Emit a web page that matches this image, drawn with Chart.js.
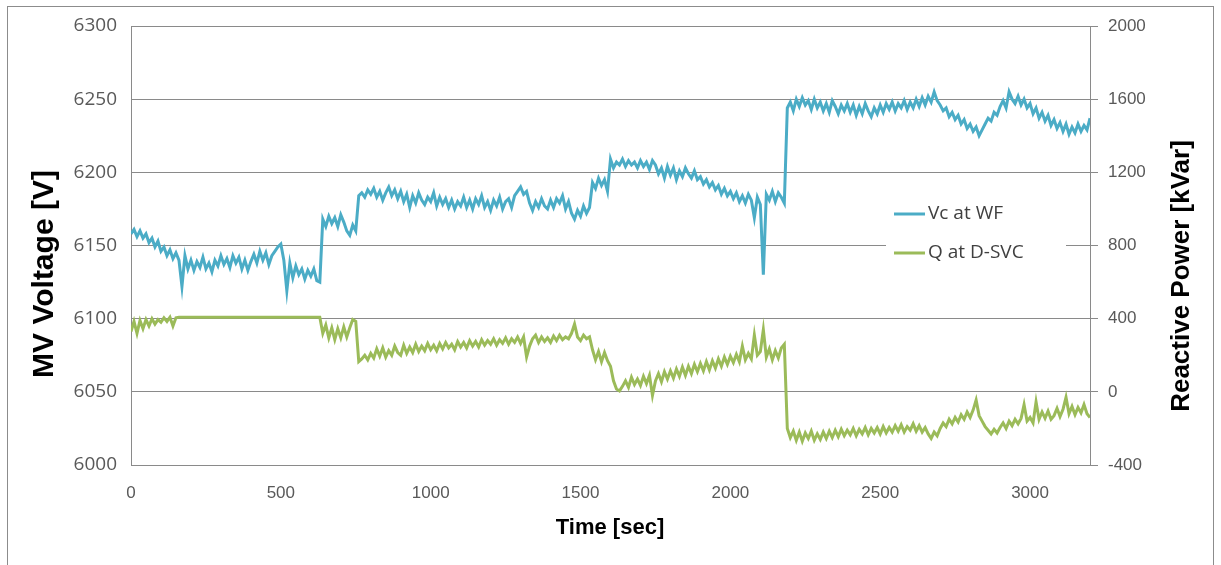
<!DOCTYPE html>
<html>
<head>
<meta charset="utf-8">
<title>MV Voltage and Reactive Power</title>
<script src="https://cdn.jsdelivr.net/npm/chart.js@4.4.0/dist/chart.umd.min.js"></script>
<style>
    html, body { margin: 0; padding: 0; background: #ffffff; }
    .c-wrap { position: relative; width: 1221px; height: 565px; overflow: hidden; }
</style>
</head>
<body>
<div class="c-wrap"><canvas class="js-chart" width="1221" height="565"></canvas></div>
<script>
// sampling step of the logged data [sec]
const STEP = 10;

const seriesNames = ['Vc at WF', 'Q at D-SVC'];
const voltTicks = [6000, 6050, 6100, 6150, 6200, 6250, 6300];
const powerTicks = [-400, 0, 400, 800, 1200, 1600, 2000];
const timeTicks = [0, 500, 1000, 1500, 2000, 2500, 3000];
const timeMax = 3200;

// Vc at WF [V], one value every 10 s, rows of 100 s
const vcWF = [
    6158, 6161, 6156, 6160, 6155, 6158, 6152, 6155, 6149, 6153,
    6146, 6149, 6143, 6147, 6141, 6145, 6140, 6122, 6143, 6134,
    6140, 6133, 6139, 6135, 6142, 6134, 6138, 6132, 6140, 6136,
    6143, 6137, 6141, 6135, 6143, 6138, 6142, 6134, 6140, 6133,
    6139, 6144, 6138, 6146, 6140, 6145, 6137, 6143, 6146, 6149,
    6151, 6140, 6119, 6138, 6128, 6136, 6130, 6134, 6127, 6133,
    6129, 6134, 6126, 6125, 6168, 6163, 6170, 6165, 6169, 6163,
    6171, 6166, 6160, 6157, 6164, 6160, 6184, 6186, 6183, 6188,
    6185, 6189, 6183, 6187, 6181, 6186, 6190, 6184, 6188, 6182,
    6187, 6180, 6185, 6176, 6184, 6179, 6186, 6181, 6178, 6183,
    6180, 6186, 6177, 6183, 6178, 6182, 6176, 6181, 6175, 6180,
    6177, 6183, 6176, 6181, 6175, 6182, 6178, 6184, 6176, 6180,
    6174, 6181, 6177, 6183, 6175, 6180, 6182, 6176, 6184, 6187,
    6190, 6185, 6187, 6179, 6174, 6180, 6176, 6182, 6177, 6175,
    6181, 6176, 6182, 6179, 6184, 6175, 6180, 6172, 6168, 6174,
    6170, 6177, 6172, 6176, 6193, 6189, 6196, 6191, 6195, 6187,
    6209, 6203, 6207, 6205, 6209, 6204, 6208, 6205, 6207, 6203,
    6208, 6204, 6207, 6202, 6208, 6205, 6199, 6203, 6196, 6204,
    6198, 6203, 6195, 6201, 6197, 6203, 6199, 6196, 6201, 6195,
    6197, 6192, 6195, 6190, 6193, 6188, 6191, 6185, 6189, 6184,
    6187, 6182, 6186, 6180, 6184, 6179, 6185, 6181, 6169, 6183,
    6178, 6130, 6185, 6181, 6187, 6180, 6186, 6183, 6179, 6244,
    6248, 6242, 6250, 6245, 6251, 6246, 6249, 6243, 6250, 6244,
    6248, 6242, 6247, 6241, 6249, 6245, 6240, 6246, 6242, 6247,
    6241, 6246, 6239, 6245, 6240, 6247, 6242, 6238, 6244, 6240,
    6246, 6241, 6247, 6243, 6248, 6242, 6247, 6244, 6249, 6243,
    6248, 6244, 6250, 6245, 6251, 6246, 6252, 6248, 6255, 6249,
    6246, 6242, 6244, 6238, 6241, 6236, 6239, 6233, 6236, 6230,
    6233, 6228, 6231, 6225, 6229, 6233, 6237, 6235, 6241, 6239,
    6245, 6249, 6244, 6255, 6250, 6247, 6252, 6246, 6250, 6244,
    6247, 6240, 6244, 6237, 6241, 6235, 6239, 6232, 6236, 6230,
    6234, 6228, 6233, 6226, 6231, 6227, 6233, 6228, 6232, 6229,
    6237
];

// Q at D-SVC [kVar], same time base
const qSVC = [
    330, 385, 320, 390, 345, 395, 360, 400, 370, 395,
    380, 405, 385, 408, 360, 405, 408, 408, 408, 408,
    408, 408, 408, 408, 408, 408, 408, 408, 408, 408,
    408, 408, 408, 408, 408, 408, 408, 408, 408, 408,
    408, 408, 408, 408, 408, 408, 408, 408, 408, 408,
    408, 408, 408, 408, 408, 408, 408, 408, 408, 408,
    408, 408, 408, 408, 320, 365, 295, 350, 285, 345,
    295, 355, 300, 350, 395, 385, 165, 180, 200, 175,
    210, 185, 235, 195, 240, 190, 225, 200, 250, 215,
    200, 255, 210, 245, 215, 260, 220, 250, 225, 265,
    230, 255, 225, 265, 235, 270, 240, 260, 230, 275,
    245, 270, 240, 280, 250, 275, 245, 285, 255, 280,
    260, 290, 255, 285, 265, 295, 260, 290, 270, 300,
    265, 300, 190, 250, 290, 310, 270, 300, 275, 295,
    270, 305, 280, 310, 285, 300, 290, 320, 370, 300,
    280, 310, 290, 300, 230, 175, 220, 165, 215, 170,
    140, 60, 15, 5, 30, 60, 25, 80, 40, 70,
    35, 85, 45, 90, -20, 60, 100, 55, 110, 70,
    115, 75, 125, 85, 135, 90, 140, 100, 150, 110,
    155, 115, 165, 120, 170, 130, 180, 140, 190, 150,
    195, 160, 205, 165, 250, 175, 210, 180, 310, 200,
    220, 340, 190, 235, 175, 225, 185, 240, 260, -200,
    -250, -215, -265, -220, -270, -225, -255, -215, -265, -230,
    -260, -220, -255, -215, -250, -210, -245, -205, -240, -210,
    -235, -200, -240, -205, -230, -195, -235, -200, -225, -195,
    -230, -190, -225, -195, -220, -185, -215, -180, -220, -190,
    -210, -175, -215, -185, -220, -195, -230, -255, -220, -240,
    -200, -170, -190, -150, -175, -140, -165, -125, -150, -110,
    -140, -100, -45, -130, -160, -190, -210, -230, -205, -225,
    -195, -170, -200, -160, -185, -150, -175, -145, -70, -160,
    -140, -170, -55, -150, -110, -145, -105, -150, -130, -90,
    -135, -95, -30, -120, -80, -125, -85, -115, -70, -120,
    -140
];

const gridColor = '#8a8a8a';
const tickColor = '#595959';

const toPoints = function(values){
    return values.map((v, i) => ({x: i * STEP, y: v}));
}

// put ticks exactly on the given list
const fixTicks = function(list){
    return function(scale){
        scale.ticks = list.map(v => ({value: v}));
    }
}

// frame, axis titles and the legend box like the excel original
const extrasPlugin = {
    id: 'extras',
    afterDraw(chart){
        const ctx = chart.ctx;
        ctx.save();
        ctx.strokeStyle = '#8c8c8c';
        ctx.lineWidth = 1;
        ctx.strokeRect(7.5, 6.5, 1206, 600);

        ctx.fillStyle = '#000000';
        ctx.textAlign = 'center';
        ctx.textBaseline = 'middle';
        ctx.font = 'bold 22px "Liberation Sans", Arial, sans-serif';
        ctx.fillText('Time [sec]', 610, 528);

        ctx.translate(45, 274);
        ctx.rotate(-Math.PI / 2);
        ctx.font = 'bold 30px "Liberation Sans", Arial, sans-serif';
        ctx.fillText('MV Voltage [V]', 0, 0);
        ctx.restore();

        ctx.save();
        ctx.translate(1182, 276);
        ctx.rotate(-Math.PI / 2);
        ctx.textAlign = 'center';
        ctx.textBaseline = 'middle';
        ctx.fillStyle = '#000000';
        ctx.font = 'bold 26px "Liberation Sans", Arial, sans-serif';
        ctx.fillText('Reactive Power [kVar]', 0, 0);
        ctx.restore();

        // legend
        ctx.save();
        ctx.fillStyle = '#ffffff';
        ctx.fillRect(886, 196, 180, 74);
        ctx.font = '19px "Open Sans", sans-serif';
        ctx.textAlign = 'left';
        ctx.textBaseline = 'middle';
        chart.data.datasets.forEach((ds, i) => {
            const y = 214 + i * 39;
            ctx.strokeStyle = ds.borderColor;
            ctx.lineWidth = 3;
            ctx.beginPath();
            ctx.moveTo(894, y);
            ctx.lineTo(925, y);
            ctx.stroke();
            ctx.fillStyle = '#404040';
            ctx.fillText(ds.label, 928, y);
        });
        ctx.restore();
    }
}

const initChart = function(){
    const data = {
        datasets: [{
            label: seriesNames[0],
            data: toPoints(vcWF),
            borderColor: '#4bacc6',
            backgroundColor: '#4bacc6',
            borderWidth: 3,
            pointRadius: 0,
            yAxisID: 'volt'
        },{
            label: seriesNames[1],
            data: toPoints(qSVC),
            borderColor: '#9bbb59',
            backgroundColor: '#9bbb59',
            borderWidth: 3,
            pointRadius: 0,
            yAxisID: 'power'
        }]
    };

    const plain = v => String(v);

    const config = {
        type: 'line',
        data: data,
        options: {
            responsive: false,
            animation: false,
            events: [],
            layout: {
                padding: {left: 0, right: 0, top: 26, bottom: 0}
            },
            scales: {
                x: {
                    type: 'linear',
                    min: timeTicks[0],
                    max: timeMax,
                    grid: {display: false, drawTicks: false},
                    border: {display: true, color: gridColor},
                    afterBuildTicks: fixTicks(timeTicks),
                    ticks: {
                        padding: 18,
                        color: tickColor,
                        maxRotation: 0,
                        autoSkip: false,
                        callback: plain,
                        font: {family: '"Liberation Sans", Arial, sans-serif', size: 17}
                    },
                    afterFit: function(s){ s.height = 100; }
                },
                volt: {
                    type: 'linear',
                    position: 'left',
                    min: voltTicks[0],
                    max: voltTicks[voltTicks.length - 1],
                    grid: {color: gridColor, drawTicks: false},
                    border: {color: gridColor},
                    afterBuildTicks: fixTicks(voltTicks),
                    ticks: {
                        padding: 14,
                        color: tickColor,
                        callback: plain,
                        font: {family: '"Open Sans", sans-serif', size: 19}
                    },
                    afterFit: function(s){ s.width = 131; }
                },
                power: {
                    type: 'linear',
                    position: 'right',
                    min: powerTicks[0],
                    max: powerTicks[powerTicks.length - 1],
                    grid: {color: gridColor, drawOnChartArea: false, drawTicks: true, tickLength: 8},
                    border: {color: gridColor},
                    afterBuildTicks: fixTicks(powerTicks),
                    ticks: {
                        padding: 10,
                        color: tickColor,
                        callback: plain,
                        font: {family: '"Liberation Sans", Arial, sans-serif', size: 17}
                    },
                    afterFit: function(s){ s.width = 131; }
                }
            },
            plugins: {
                legend: {display: false},
                tooltip: {enabled: false}
            }
        },
        plugins: [extrasPlugin]
    };

    const chart = new Chart(document.querySelector('.js-chart'), config);
}

document.addEventListener('DOMContentLoaded', function () {
    initChart();
});
</script>
</body>
</html>
